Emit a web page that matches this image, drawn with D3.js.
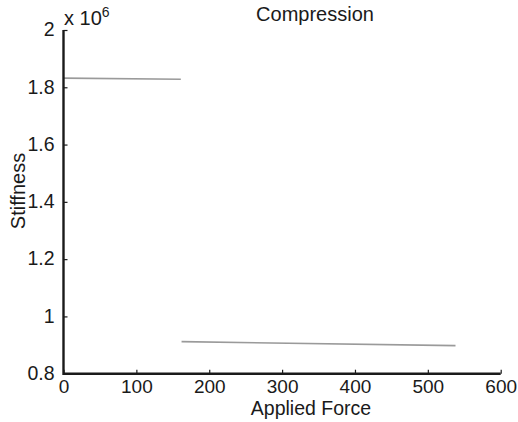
<!DOCTYPE html>
<html><head><meta charset="utf-8">
<script src="https://cdn.jsdelivr.net/npm/d3@7"></script>
<style>body{margin:0;background:#fff}svg{display:block}text{font-family:"Liberation Sans",Arial,sans-serif;fill:#1a1a1a}</style>
</head><body><svg id="c" width="518" height="422"></svg>
<script>
const title = "Compression";
const xLabel = "Applied Force";
const yLabel = "Stiffness";
const xTicks = [0,100,200,300,400,500,600];
const yTicks = [0.8,1,1.2,1.4,1.6,1.8,2];
const seg1X = [0, 161];
const seg1Y = [1.832, 1.828];
const seg2X = [162, 538];
const seg2Y = [0.912, 0.898];

const svg = d3.select("#c");
const L=63.5, R=500.7, T=30, B=373.7;
const x = d3.scaleLinear().domain([0,600]).range([L,R]);
const y = d3.scaleLinear().domain([0.8,2]).range([B,T]);

const line = d3.line().x(d=>x(d[0])).y(d=>y(d[1]));
[[seg1X,seg1Y],[seg2X,seg2Y]].forEach(([xs,ys])=>{
  svg.append("path").datum(xs.map((v,i)=>[v,ys[i]]))
    .attr("d",line).attr("fill","none").attr("stroke","#9a9a9a").attr("stroke-width",1.6);
});

const fs = 20;
const xa = svg.append("g").attr("transform",`translate(0,${B})`)
  .call(d3.axisTop(x).tickValues(xTicks).tickSize(4).tickFormat(d3.format("d")));
xa.select(".domain").remove();
xa.selectAll("line").attr("stroke","#1a1a1a").attr("stroke-width",1.2);
xa.selectAll("text").attr("y",19.3).attr("dy","0").style("font-size","19px").attr("fill","#1a1a1a").attr("font-family",null);

const ya = svg.append("g").attr("transform",`translate(${L},0)`)
  .call(d3.axisRight(y).tickValues(yTicks).tickSize(4).tickFormat(d=>d3.format("")(+d.toFixed(1))));
ya.select(".domain").remove();
ya.selectAll("line").attr("stroke","#1a1a1a").attr("stroke-width",1.2);
ya.selectAll("text").attr("x",-9).attr("dy","0.3em").attr("text-anchor","end").style("font-size","19.5px").attr("fill","#1a1a1a").attr("font-family",null);

svg.append("line").attr("x1",L).attr("x2",R).attr("y1",B).attr("y2",B).attr("stroke","#1a1a1a").attr("stroke-width",2.4);
svg.append("line").attr("x1",L).attr("x2",L).attr("y1",T).attr("y2",B+1.2).attr("stroke","#1a1a1a").attr("stroke-width",2.4);

svg.append("text").attr("x",315).attr("y",21).attr("text-anchor","middle").style("font-size",fs+"px").text(title);
svg.append("text").attr("x",311).attr("y",415).attr("text-anchor","middle").style("font-size","19.5px").text(xLabel);
svg.append("text").attr("transform",`translate(25,191) rotate(-90)`).attr("text-anchor","middle").style("font-size",fs+"px").text(yLabel);
const ex = svg.append("text").attr("x",64).attr("y",25).style("font-size",fs+"px");
ex.append("tspan").text("x 10");
ex.append("tspan").attr("dy",-8).style("font-size","14px").text("6");
</script></body></html>
